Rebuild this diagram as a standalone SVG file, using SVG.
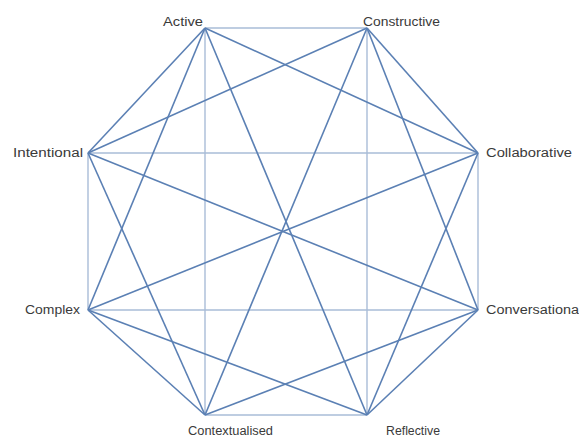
<svg xmlns="http://www.w3.org/2000/svg" width="579" height="438" viewBox="0 0 579 438">
<style>
.d{stroke:#5b80b4;stroke-width:1.6;fill:none}
.a{stroke:#a9bcd7;stroke-width:1.4;fill:none}
text{font-family:"Liberation Sans",Arial,sans-serif;font-size:12.5px;fill:#3a3a3a}
</style>
<rect width="579" height="438" fill="#ffffff"/>
<g id="connectors">
<line class="a" x1="205" y1="28" x2="367" y2="28"/>
<line class="a" x1="88" y1="153" x2="478" y2="153"/>
<line class="a" x1="88" y1="310" x2="478" y2="310"/>
<line class="a" x1="205" y1="415" x2="367" y2="415"/>
<line class="a" x1="205" y1="28" x2="205" y2="415"/>
<line class="a" x1="367" y1="28" x2="367" y2="415"/>
<line class="a" x1="88" y1="153" x2="88" y2="310"/>
<line class="a" x1="478" y1="153" x2="478" y2="310"/>
<line class="d" x1="205" y1="28" x2="88" y2="153"/>
<line class="d" x1="205" y1="28" x2="88" y2="310"/>
<line class="d" x1="205" y1="28" x2="367" y2="415"/>
<line class="d" x1="205" y1="28" x2="478" y2="153"/>
<line class="d" x1="367" y1="28" x2="478" y2="153"/>
<line class="d" x1="367" y1="28" x2="478" y2="310"/>
<line class="d" x1="367" y1="28" x2="205" y2="415"/>
<line class="d" x1="367" y1="28" x2="88" y2="153"/>
<line class="d" x1="88" y1="153" x2="478" y2="310"/>
<line class="d" x1="88" y1="153" x2="205" y2="415"/>
<line class="d" x1="478" y1="153" x2="88" y2="310"/>
<line class="d" x1="478" y1="153" x2="367" y2="415"/>
<line class="d" x1="88" y1="310" x2="205" y2="415"/>
<line class="d" x1="88" y1="310" x2="367" y2="415"/>
<line class="d" x1="478" y1="310" x2="367" y2="415"/>
<line class="d" x1="478" y1="310" x2="205" y2="415"/>
</g>
<g id="node-active"><text x="163" y="26" textLength="40" lengthAdjust="spacingAndGlyphs">Active</text></g>
<g id="node-constructive"><text x="363" y="26" textLength="77" lengthAdjust="spacingAndGlyphs">Constructive</text></g>
<g id="node-intentional"><text x="13" y="157" textLength="70" lengthAdjust="spacingAndGlyphs">Intentional</text></g>
<g id="node-collaborative"><text x="486" y="157" textLength="86" lengthAdjust="spacingAndGlyphs">Collaborative</text></g>
<g id="node-complex"><text x="25" y="314" textLength="55" lengthAdjust="spacingAndGlyphs">Complex</text></g>
<g id="node-conversational"><text x="486" y="314" textLength="93" lengthAdjust="spacingAndGlyphs">Conversationa</text></g>
<g id="node-contextualised"><text x="188" y="435" textLength="85" lengthAdjust="spacingAndGlyphs">Contextualised</text></g>
<g id="node-reflective"><text x="386" y="435" textLength="54" lengthAdjust="spacingAndGlyphs">Reflective</text></g>
</svg>
